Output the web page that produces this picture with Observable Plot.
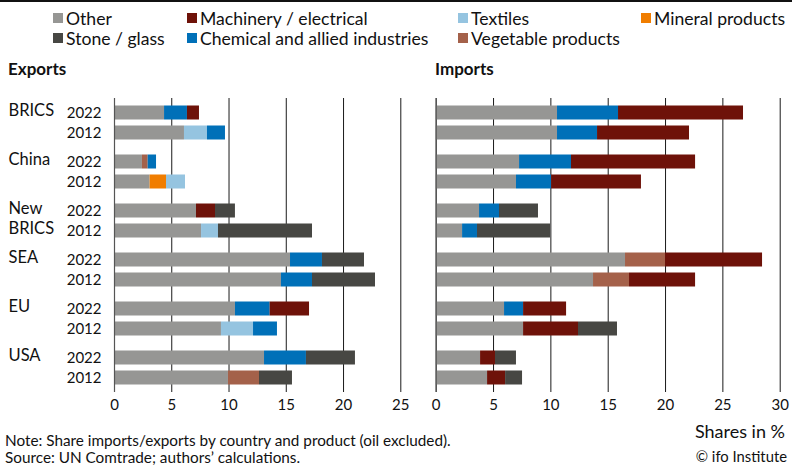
<!DOCTYPE html>
<html><head><meta charset="utf-8">
<script src="https://cdn.jsdelivr.net/npm/d3@7"></script>
<script src="https://cdn.jsdelivr.net/npm/@observablehq/plot@0.6"></script>
<style>
body{margin:0;background:#fff;font-family:Lato,"Noto Sans",sans-serif;color:#111}
#root{position:relative;width:792px;height:465px;overflow:hidden;background:#fff}
.abs{position:absolute;white-space:nowrap}
#topline{position:absolute;left:0;top:0;width:792px;height:2px;background:#111}
#legend{position:absolute;left:53px;top:8px;display:grid;grid-template-columns:134px 271px 183px auto;row-gap:0px;font-size:17.6px}
.item{display:flex;align-items:center;height:20px}
.sw{width:10px;height:10px;margin-right:3px;flex:none}
.plotbox{position:absolute;top:80px}
</style></head><body><div id="root"><div id="topline"></div></div>
<script>
// ---- data ----
const countries = ["BRICS", "China", "New BRICS", "SEA", "EU", "USA"];
const years = ["2022", "2012"];
const products = ["Other", "Machinery / electrical", "Textiles", "Mineral products",
  "Stone / glass", "Chemical and allied industries", "Vegetable products"];
const productColors = ["#969694", "#6e1209", "#95c4e0", "#f07d00", "#474743", "#0070b8", "#a4614a"];
const stackOrder = ["Other", "Mineral products", "Textiles", "Vegetable products",
  "Chemical and allied industries", "Machinery / electrical", "Stone / glass"];
// rows: BRICS 2022, BRICS 2012, China 2022, China 2012, New BRICS 2022, New BRICS 2012,
//       SEA 2022, SEA 2012, EU 2022, EU 2012, USA 2022, USA 2012
const exportsOther      = [4.37, 6.11, 2.44, 3.11, 7.16, 7.60, 15.37, 14.58, 10.56, 9.34, 13.10, 9.95];
const exportsMineral    = [0, 0, 0, 1.43, 0, 0, 0, 0, 0, 0, 0, 0];
const exportsTextiles   = [0, 2.01, 0, 1.66, 0, 1.48, 0, 0, 0, 2.80, 0, 0];
const exportsVegetable  = [0, 0, 0.50, 0, 0, 0, 0, 0, 0, 0, 0, 2.71];
const exportsChemical   = [2.00, 1.57, 0.73, 0, 0, 0, 2.79, 2.71, 3.03, 2.09, 3.66, 0];
const exportsMachinery  = [1.05, 0, 0, 0, 1.66, 0, 0, 0, 3.44, 0, 0, 0];
const exportsStone      = [0, 0, 0, 0, 1.74, 8.21, 3.67, 5.50, 0, 0, 4.28, 2.88];

const importsOther      = [10.58, 10.58, 7.27, 7.00, 3.78, 2.30, 16.51, 13.72, 5.96, 7.62, 3.87, 4.48];
const importsMineral    = [0, 0, 0, 0, 0, 0, 0, 0, 0, 0, 0, 0];
const importsTextiles   = [0, 0, 0, 0, 0, 0, 0, 0, 0, 0, 0, 0];
const importsVegetable  = [0, 0, 0, 0, 0, 0, 3.49, 3.14, 0, 0, 0, 0];
const importsChemical   = [5.32, 3.49, 4.53, 3.06, 1.74, 1.30, 0, 0, 1.66, 0, 0, 0];
const importsMachinery  = [10.90, 8.02, 10.82, 7.84, 0, 0, 8.46, 5.76, 3.75, 4.79, 1.30, 1.57];
const importsStone      = [0, 0, 0, 0, 3.40, 6.37, 0, 0, 0, 3.40, 1.83, 1.48];

const exportsTicks = [0, 5, 10, 15, 20, 25];
const importsTicks = [0, 5, 10, 15, 20, 25, 30];
const countryLabelLines = [["BRICS"], ["China"], ["New", "BRICS"], ["SEA"], ["EU"], ["USA"]];

// ---- build ----
function seriesMap(o, m, t, v, c, mc, s) {
  return {"Other": o, "Mineral products": m, "Textiles": t, "Vegetable products": v,
    "Chemical and allied industries": c, "Machinery / electrical": mc, "Stone / glass": s};
}
const exportsSeries = seriesMap(exportsOther, exportsMineral, exportsTextiles, exportsVegetable, exportsChemical, exportsMachinery, exportsStone);
const importsSeries = seriesMap(importsOther, importsMineral, importsTextiles, importsVegetable, importsChemical, importsMachinery, importsStone);

function rowsFor(series) {
  const rows = [];
  countries.forEach((c, i) => years.forEach((y, j) => {
    const k = i * 2 + j;
    stackOrder.forEach(p => { const v = series[p][k]; if (v > 0) rows.push({country: c, year: y, product: p, value: v}); });
  }));
  return rows;
}
const labelRows = [];
countries.forEach((c, i) => countryLabelLines[i].forEach((t, j) => labelRows.push({country: c, year: years[j], text: t})));

function panel(series, ticks, width, ml, mr, showLabels) {
  const marks = [
    Plot.ruleX(ticks, {stroke: "#1a1a1a", strokeWidth: 1}),
    Plot.barX(rowsFor(series), Plot.stackX({x: "value", y: "year", fy: "country", fill: "product"})),
    Plot.ruleX([0], {stroke: "#555", strokeWidth: 1.2})
  ];
  if (showLabels) marks.push(Plot.text(labelRows, {fy: "country", y: "year", text: "text", frameAnchor: "left",
    textAnchor: "start", dx: -106, dy: -2, fontSize: 16.5, fill: "#111"}));
  return Plot.plot({
    width, height: 338, marginLeft: ml, marginRight: mr, marginTop: 16.5, marginBottom: 25.5,
    style: {fontFamily: "Lato, 'Noto Sans', sans-serif", fontSize: "15px", color: "#111", background: "transparent", overflow: "visible"},
    x: {domain: [0, ticks[ticks.length - 1]], ticks, tickSize: 0, tickPadding: 7, label: null},
    y: {domain: years, paddingInner: 0.286, paddingOuter: 0.32, label: null, axis: showLabels ? "left" : null, tickSize: 0, tickPadding: 13},
    fy: {domain: countries, padding: 0, axis: null, label: null},
    color: {domain: products, range: productColors},
    marks
  });
}

const root = document.getElementById("root");
// legend
const lg = document.createElement("div"); lg.id = "legend";
products.forEach((p, i) => {
  const it = document.createElement("div"); it.className = "item";
  const sw = document.createElement("span"); sw.className = "sw"; sw.style.background = productColors[i];
  it.appendChild(sw); it.appendChild(document.createTextNode(p)); lg.appendChild(it);
});
root.appendChild(lg);

function addText(txt, left, centerY, size, weight, align) {
  const d = document.createElement("div"); d.className = "abs"; d.textContent = txt;
  d.style.fontSize = size + "px"; d.style.fontWeight = weight || "normal";
  d.style.lineHeight = Math.ceil(size + 2) + "px";
  d.style.top = (centerY - Math.ceil(size + 2) / 2) + "px";
  if (align === "right") { d.style.right = (792 - left) + "px"; } else d.style.left = left + "px";
  root.appendChild(d);
}
addText("Exports", 8, 68, 17, "bold");
addText("Imports", 435, 68, 17, "bold");

const left = document.createElement("div"); left.className = "plotbox"; left.style.left = "0px";
left.appendChild(panel(exportsSeries, exportsTicks, 420, 114, 19.7, true));
root.appendChild(left);
const right = document.createElement("div"); right.className = "plotbox"; right.style.left = "420px";
right.appendChild(panel(importsSeries, importsTicks, 372, 15.7, 12.3, false));
root.appendChild(right);

addText("Note: Share imports/exports by country and product (oil excluded).", 5, 440, 15.3);
addText("Source: UN Comtrade; authors’ calculations.", 5, 456.5, 15.3);
addText("Shares in %", 785, 431, 18, "normal", "right");
addText("© ifo Institute", 787, 456.5, 14.8, "normal", "right");
</script></body></html>
